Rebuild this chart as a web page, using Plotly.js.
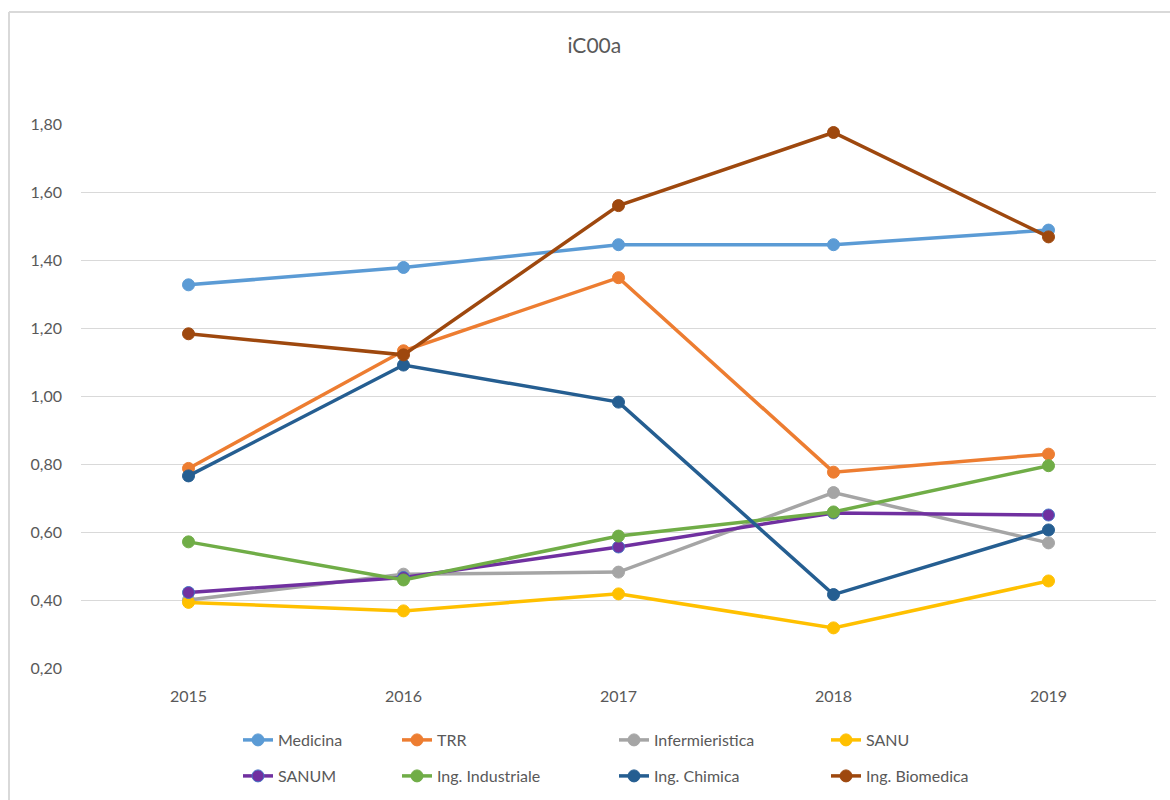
<!DOCTYPE html>
<html>
<head>
<meta charset="utf-8">
<script src="https://cdn.plot.ly/plotly-3.0.1.min.js"></script>
<style>html,body{margin:0;padding:0;background:#fff;}#chart{width:1170px;height:800px;}</style>
</head>
<body>
<div id="chart"></div>
<script>
const years = ['2015', '2016', '2017', '2018', '2019'];
const seriesNames = ['Medicina', 'TRR', 'Infermieristica', 'SANU', 'SANUM', 'Ing. Industriale', 'Ing. Chimica', 'Ing. Biomedica'];
const medicina = [1.327, 1.378, 1.445, 1.445, 1.488];
const trr = [0.787, 1.133, 1.348, 0.776, 0.829];
const infermieristica = [0.40, 0.476, 0.482, 0.716, 0.568];
const sanu = [0.393, 0.368, 0.418, 0.318, 0.456];
const sanum = [0.422, 0.466, 0.556, 0.656, 0.650];
const ingIndustriale = [0.571, 0.459, 0.588, 0.659, 0.795];
const ingChimica = [0.765, 1.091, 0.982, 0.416, 0.606];
const ingBiomedica = [1.183, 1.121, 1.560, 1.775, 1.468];
const allValues = [medicina, trr, infermieristica, sanu, sanum, ingIndustriale, ingChimica, ingBiomedica];
const colors = ['#5B9BD5', '#ED7D31', '#A5A5A5', '#FFC000', '#7030A0', '#70AD47', '#255E91', '#9E480E'];
const markerLines = ['#5B9BD5', '#ED7D31', '#A5A5A5', '#FFC000', '#4472C4', '#70AD47', '#255E91', '#9E480E'];

const FONT = 'Lato, "Open Sans", sans-serif';
const TXT = '#595959';

const legendIds = ['legend', 'legend2', 'legend3', 'legend4', 'legend5', 'legend6', 'legend7', 'legend8'];

const traces = seriesNames.map((name, i) => ({
  type: 'scatter',
  mode: 'lines+markers',
  name: name,
  x: years,
  y: allValues[i],
  legend: legendIds[i],
  line: {color: colors[i], width: 3.5},
  marker: {color: colors[i], size: 12, line: {color: markerLines[i], width: 1}}
}));

// plot area in pixels
const L = 81, R = 14, T = 124, B = 132, W = 1170, H = 800;
const pw = W - L - R, ph = H - T - B;
const px = x => (x - L) / pw;
const py = y => (H - B - y) / ph;

const colX = [238, 397, 614, 826];
const rowY = [740, 776];
const layout = {
  width: W, height: H,
  margin: {l: L, r: R, t: T, b: B, autoexpand: false},
  paper_bgcolor: '#ffffff',
  plot_bgcolor: '#ffffff',
  font: {family: FONT, color: TXT, size: 16},
  separators: ',.',
  title: {text: 'iC00a', x: 0.508, xanchor: 'center', y: 1 - 46 / H, yanchor: 'middle', font: {family: FONT, size: 21, color: TXT}},
  showlegend: true,
  xaxis: {
    type: 'category', range: [-0.5, 4.5], showgrid: false, zeroline: false, showline: false,
    ticks: '', tickfont: {size: 16, color: TXT}, ticklabelstandoff: 17, fixedrange: true
  },
  yaxis: {
    range: [0.2, 1.8], dtick: 0.2, tick0: 0.2, tickformat: '.2f', showgrid: true, gridcolor: '#d9d9d9', gridwidth: 1,
    zeroline: false, showline: false, ticks: '', tickfont: {size: 16, color: TXT}, ticklabelstandoff: 18, fixedrange: true
  },
  shapes: [
    {type: 'line', xref: 'paper', yref: 'paper', x0: px(9), x1: px(9), y0: py(12), y1: py(805), line: {color: '#d9d9d9', width: 2}},
    {type: 'line', xref: 'paper', yref: 'paper', x0: px(9), x1: px(1175), y0: py(12), y1: py(12), line: {color: '#d9d9d9', width: 2}}
  ]
};
legendIds.forEach((id, i) => {
  layout[id] = {
    x: px(colX[i % 4]), xanchor: 'left',
    y: py(rowY[Math.floor(i / 4)]), yanchor: 'middle',
    orientation: 'h', bgcolor: 'rgba(0,0,0,0)', borderwidth: 0,
    font: {family: FONT, size: 16, color: TXT}, itemwidth: 30
  };
});

Plotly.newPlot('chart', traces, layout, {displayModeBar: false, staticPlot: true});
</script>
</body>
</html>
